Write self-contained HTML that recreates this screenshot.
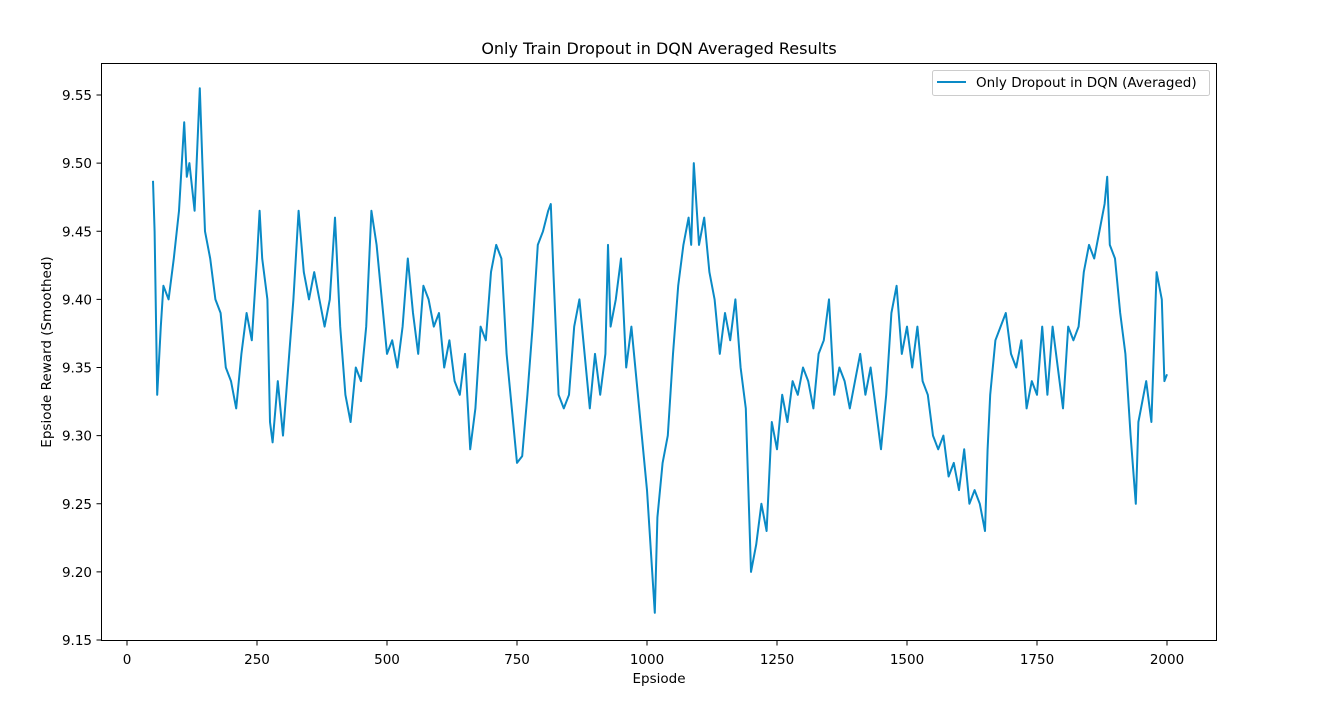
<!DOCTYPE html>
<html><head><meta charset="utf-8"><style>
body{margin:0;background:#fff;}
svg{display:block;font-family:"DejaVu Sans","Liberation Sans",sans-serif;}
</style></head><body>
<svg id="chart" width="1336" height="715">
<rect width="1336" height="715" fill="#fff"/>
<text x="659" y="54" font-size="16" text-anchor="middle">Only Train Dropout in DQN Averaged Results</text>
<g id="xt"></g>
<g id="yt"></g>
<path id="line" fill="none" stroke="#0a8ac6" stroke-width="2" stroke-linejoin="round"/>
<rect x="101.5" y="63.5" width="1115" height="577" fill="none" stroke="#000" stroke-width="1"/>
<text x="659" y="683" font-size="13.5" text-anchor="middle">Epsiode</text>
<text transform="translate(51,352) rotate(-90)" font-size="13.5" text-anchor="middle">Epsiode Reward (Smoothed)</text>
<g>
<rect x="932.5" y="70.5" width="277" height="25" rx="2" fill="#fff" stroke="#ccc"/>
<line x1="937" y1="82" x2="966" y2="82" stroke="#0a8ac6" stroke-width="2"/>
<text x="976" y="87" font-size="13.5">Only Dropout in DQN (Averaged)</text>
</g>
</svg>
<script>
const episodes=[50,53,58,65,70,80,90,100,110,115,120,130,140,145,150,160,170,180,190,200,210,220,230,240,250,255,260,270,275,280,290,300,310,320,330,340,350,360,370,380,390,400,410,420,430,440,450,460,470,480,490,500,510,520,530,540,550,560,570,580,590,600,610,620,630,640,650,660,670,680,690,700,710,720,730,740,750,760,770,780,790,800,810,815,820,830,840,850,860,870,880,890,900,910,920,925,930,940,950,960,970,980,990,1000,1010,1015,1020,1030,1040,1050,1060,1070,1080,1085,1090,1100,1110,1120,1130,1140,1150,1160,1170,1180,1190,1195,1200,1210,1220,1230,1240,1250,1260,1270,1280,1290,1300,1310,1320,1330,1340,1350,1360,1370,1380,1390,1400,1410,1420,1430,1440,1450,1460,1470,1480,1490,1500,1510,1520,1530,1540,1550,1560,1570,1580,1590,1600,1610,1620,1630,1640,1650,1655,1660,1670,1680,1690,1700,1710,1720,1730,1740,1750,1760,1770,1780,1790,1800,1810,1820,1830,1840,1850,1860,1870,1880,1885,1890,1900,1910,1920,1930,1940,1945,1950,1960,1970,1980,1990,1995,2000];
const rewards=[9.487,9.45,9.33,9.38,9.41,9.40,9.43,9.465,9.53,9.49,9.50,9.465,9.555,9.50,9.45,9.43,9.40,9.39,9.35,9.34,9.32,9.36,9.39,9.37,9.43,9.465,9.43,9.40,9.31,9.295,9.34,9.30,9.35,9.40,9.465,9.42,9.40,9.42,9.40,9.38,9.40,9.46,9.38,9.33,9.31,9.35,9.34,9.38,9.465,9.44,9.40,9.36,9.37,9.35,9.38,9.43,9.39,9.36,9.41,9.40,9.38,9.39,9.35,9.37,9.34,9.33,9.36,9.29,9.32,9.38,9.37,9.42,9.44,9.43,9.36,9.32,9.28,9.285,9.33,9.38,9.44,9.45,9.465,9.47,9.42,9.33,9.32,9.33,9.38,9.40,9.36,9.32,9.36,9.33,9.36,9.44,9.38,9.40,9.43,9.35,9.38,9.34,9.30,9.26,9.20,9.17,9.24,9.28,9.30,9.36,9.41,9.44,9.46,9.44,9.50,9.44,9.46,9.42,9.40,9.36,9.39,9.37,9.40,9.35,9.32,9.26,9.20,9.22,9.25,9.23,9.31,9.29,9.33,9.31,9.34,9.33,9.35,9.34,9.32,9.36,9.37,9.40,9.33,9.35,9.34,9.32,9.34,9.36,9.33,9.35,9.32,9.29,9.33,9.39,9.41,9.36,9.38,9.35,9.38,9.34,9.33,9.30,9.29,9.30,9.27,9.28,9.26,9.29,9.25,9.26,9.25,9.23,9.29,9.33,9.37,9.38,9.39,9.36,9.35,9.37,9.32,9.34,9.33,9.38,9.33,9.38,9.35,9.32,9.38,9.37,9.38,9.42,9.44,9.43,9.45,9.47,9.49,9.44,9.43,9.39,9.36,9.30,9.25,9.31,9.32,9.34,9.31,9.42,9.40,9.34,9.345];
const xTicks=[0,250,500,750,1000,1250,1500,1750,2000];
const yTicks=[9.15,9.20,9.25,9.30,9.35,9.40,9.45,9.50,9.55];
const xScale=e=>127+e*0.52;
const yScale=v=>95+(9.55-v)*1362.5;
const NS="http://www.w3.org/2000/svg";
const xt=document.getElementById('xt'),yt=document.getElementById('yt');
xTicks.forEach(t=>{
 const x=xScale(t);
 const l=document.createElementNS(NS,'line');
 l.setAttribute('x1',x);l.setAttribute('x2',x);l.setAttribute('y1',641);l.setAttribute('y2',645.5);l.setAttribute('stroke','#000');
 
 
 xt.appendChild(l);
 const tx=document.createElementNS(NS,'text');
 tx.setAttribute('x',x);tx.setAttribute('y',664);tx.setAttribute('font-size','13.5');tx.setAttribute('text-anchor','middle');
 tx.textContent=t;
 
 
 xt.appendChild(tx);
});
yTicks.forEach(t=>{
 const y=yScale(t);
 const l=document.createElementNS(NS,'line');
 l.setAttribute('x1',96.5);l.setAttribute('x2',101);l.setAttribute('y1',y);l.setAttribute('y2',y);l.setAttribute('stroke','#000');
 
 
 yt.appendChild(l);
 const tx=document.createElementNS(NS,'text');
 tx.setAttribute('x',92);tx.setAttribute('y',y+5);tx.setAttribute('font-size','13.5');tx.setAttribute('text-anchor','end');
 tx.textContent=t.toFixed(2);
 
 
 yt.appendChild(tx);
});
document.getElementById('line').setAttribute('d',episodes.map((e,i)=>(i?'L':'M')+xScale(e).toFixed(1)+','+yScale(rewards[i]).toFixed(1)).join(''));
</script>
</body></html>
